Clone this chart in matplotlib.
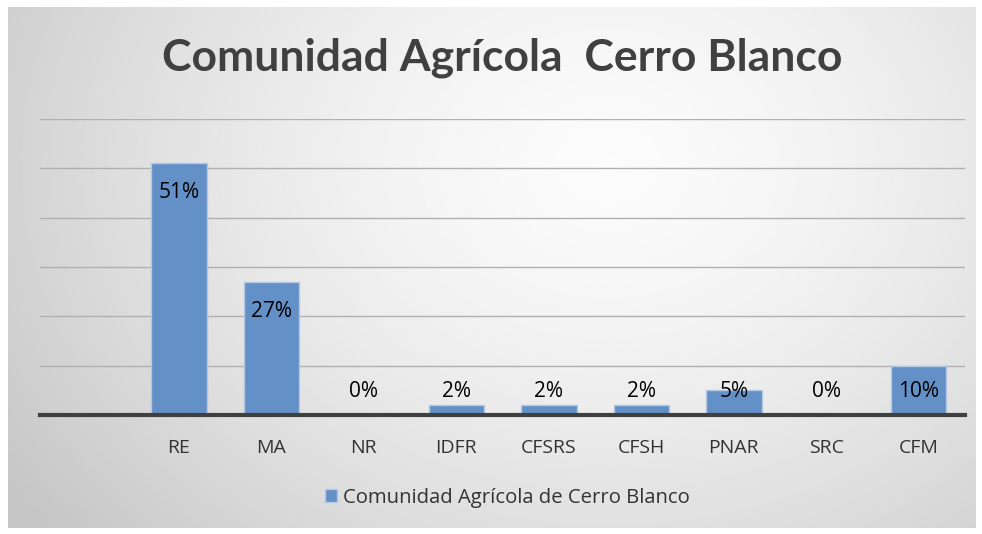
import matplotlib.pyplot as plt
import numpy as np

categories = ["", "RE", "MA", "NR", "IDFR", "CFSRS", "CFSH", "PNAR", "SRC", "CFM"]
values = [None, 51, 27, 0, 2, 2, 2, 5, 0, 10]
labels = ["", "51%", "27%", "0%", "2%", "2%", "2%", "5%", "0%", "10%"]
series_name = "Comunidad Agrícola de Cerro Blanco"
title = "Comunidad Agrícola  Cerro Blanco"

plt.rcParams["font.family"] = ["Open Sans", "DejaVu Sans"]

fig = plt.figure(figsize=(9.82, 5.34), dpi=100)
fig.patch.set_facecolor("white")

# gray panel with radial gradient
bg = fig.add_axes([8 / 982, 1 - 528 / 534, 968 / 982, 521 / 534])
yy, xx = np.mgrid[0:1:300j, 0:1:500j]
r = np.sqrt(((xx - 0.62) / 0.75) ** 2 + ((yy - 0.3) / 1.1) ** 2)
shade = 0.985 - 0.21 * np.clip(r, 0, 1) ** 1.5
bg.imshow(shade, cmap="gray", vmin=0, vmax=1, aspect="auto", extent=[0, 1, 1, 0])
bg.set_axis_off()

ax = fig.add_axes([40 / 982, 119 / 534, 925 / 982, 296 / 534])
ax.set_facecolor("none")
x = np.arange(len(categories))
vals = [0 if v is None else v for v in values]
bars = ax.bar(x[1:], vals[1:], width=0.6, color="#6390c7",
              edgecolor="#b4c8e4", linewidth=1, zorder=3, label=series_name)

for xi, v, lab in zip(x[1:], vals[1:], labels[1:]):
    ax.text(xi, max(v - 6.0, 4.8), lab, ha="center", va="center",
            fontsize=15, color="black", zorder=4)

ax.set_xlim(-0.5, len(categories) - 0.5)
ax.set_ylim(0, 60)
ax.set_yticks(np.arange(10, 61, 10))
ax.yaxis.grid(True, color="#b0b0b0", linewidth=1, zorder=0)
ax.set_yticklabels([])
ax.tick_params(axis="y", length=0)
ax.set_xticks(x)
ax.set_xticklabels(categories, fontsize=14, color="#333333")
ax.tick_params(axis="x", length=0, pad=17.5)
for s in ["top", "right", "left"]:
    ax.spines[s].set_visible(False)
ax.spines["bottom"].set_color("#404040")
ax.spines["bottom"].set_linewidth(3)
ax.spines["bottom"].set_zorder(5)

fig.text(0.511, 1 - 58 / 534, title, ha="center", va="center",
         fontsize=32, fontweight="bold", color="#404040", family=["Lato", "DejaVu Sans"])

fig.legend(handles=[bars], labels=[series_name], loc="center",
           bbox_to_anchor=(0.517, 1 - 498 / 534), frameon=False, fontsize=14.6,
           handlelength=0.6, handleheight=0.6, handletextpad=0.3,
           labelcolor="#333333")

fig.savefig("out.png", dpi=100)
